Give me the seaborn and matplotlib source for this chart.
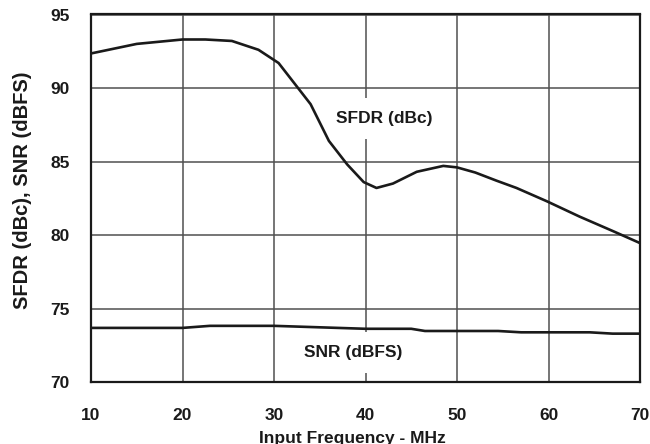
import matplotlib
matplotlib.use("Agg")
import matplotlib.pyplot as plt
import seaborn as sns
import pandas as pd

# ---- data ----
freq_sfdr = [10, 15, 20, 22.5, 25.4, 28.3, 30.5, 32, 34, 36, 38, 39.8, 41.2, 43, 45.6, 48.5, 50, 52, 54.3, 56.5, 59.8, 63.4, 67.1, 70]
sfdr = [92.35, 93.0, 93.3, 93.3, 93.2, 92.6, 91.7, 90.5, 88.9, 86.4, 84.8, 83.6, 83.2, 83.5, 84.3, 84.7, 84.6, 84.25, 83.7, 83.2, 82.3, 81.25, 80.25, 79.45]
freq_snr = [10, 20, 23, 30, 36, 40, 45, 46.5, 54.5, 57, 64.5, 67, 70]
snr = [73.68, 73.68, 73.82, 73.82, 73.7, 73.62, 73.62, 73.47, 73.47, 73.38, 73.38, 73.29, 73.29]
x_ticks = [10, 20, 30, 40, 50, 60, 70]
y_ticks = [70, 75, 80, 85, 90, 95]
series_names = ["SFDR (dBc)", "SNR (dBFS)"]

df = pd.concat([
    pd.DataFrame({"freq": freq_sfdr, "val": sfdr, "series": series_names[0]}),
    pd.DataFrame({"freq": freq_snr, "val": snr, "series": series_names[1]}),
])

sns.set_style("white")
plt.rcParams["font.family"] = ["Liberation Sans", "DejaVu Sans"]
plt.rcParams["font.weight"] = "bold"

fig = plt.figure(figsize=(6.5, 4.44), dpi=100)
ax = fig.add_axes([91/650, 1-382/444, (640-91)/650, (382-14.5)/444])

sns.lineplot(data=df, x="freq", y="val", units="series", estimator=None,
             color="#1a1a1a", linewidth=1.9, ax=ax, zorder=5, sort=False)

ax.set_xlim(10, 70)
ax.set_ylim(70, 95)
ax.set_xticks(x_ticks)
ax.set_yticks(y_ticks)
ax.grid(True, color="#505050", linewidth=1.1)
ax.set_axisbelow(True)
for s in ax.spines.values():
    s.set_color("#1a1a1a")
    s.set_linewidth(1.6)
    s.set_zorder(6)
ax.tick_params(axis="both", length=0, labelsize=12.5, colors="#1a1a1a")
ax.tick_params(axis="x", pad=18.5)
ax.tick_params(axis="y", pad=15.5)
for lab in ax.get_xticklabels() + ax.get_yticklabels():
    lab.set_fontweight("bold")

ax.set_xlabel("Input Frequency - MHz", fontsize=12.5, fontweight="bold", color="#1a1a1a")
ax.xaxis.set_label_coords((352-91)/549, (382-431)/367.5)
ax.set_ylabel("SFDR (dBc), SNR (dBFS)", fontsize=14.5, fontweight="bold", color="#1a1a1a")
ax.yaxis.set_label_coords((32-91)/549, (382-190)/367.5)

ax.text(42.0, 87.95, series_names[0], ha="center", va="center", fontsize=12.5,
        fontweight="bold", color="#1a1a1a", zorder=4,
        bbox=dict(boxstyle="square,pad=0.75", fc="white", ec="none"))
ax.text(38.7, 72.0, series_names[1], ha="center", va="center", fontsize=12.5,
        fontweight="bold", color="#1a1a1a", zorder=4,
        bbox=dict(boxstyle="square,pad=0.75", fc="white", ec="none"))

fig.savefig("out.png", dpi=100)
